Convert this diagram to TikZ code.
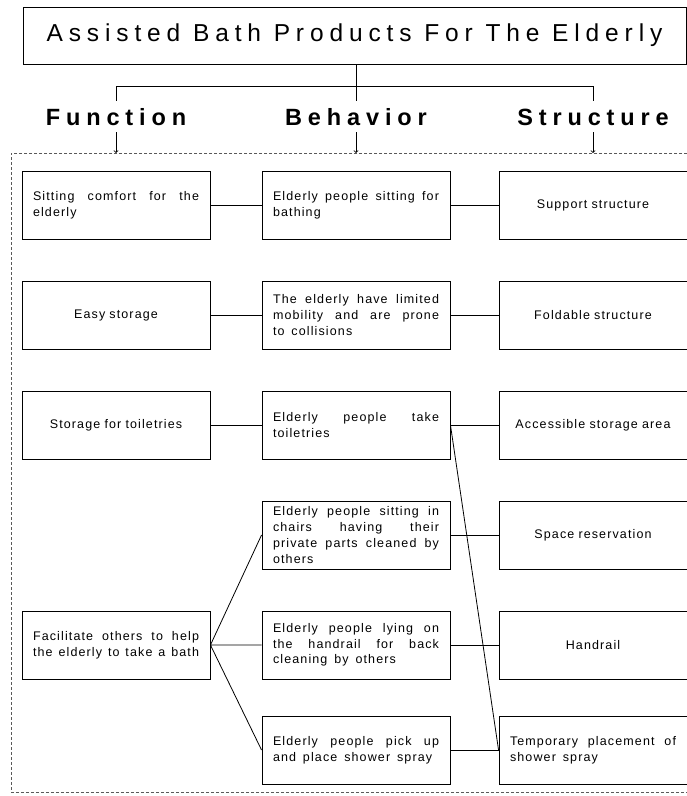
\documentclass[tikz,border=0pt]{standalone}
\usepackage{fontspec}
\setmainfont{Liberation Sans}
\newfontfamily\titlefont[LetterSpace=24]{Liberation Sans}
\newfontfamily\headfont[LetterSpace=25]{Liberation Sans}
\newfontfamily\boxfont[LetterSpace=9,WordSpace=1.5]{Liberation Sans}

\begin{document}
\begin{tikzpicture}[x=1pt,y=-1pt]
   \tikzstyle{box}=[draw, line width=0.9pt, minimum height=68pt, text width=166pt, inner xsep=11pt, inner ysep=4pt, font=\boxfont\fontsize{12.5}{15.7}\selectfont]
   \tikzstyle{cbox}=[box, align=center]
   \tikzstyle{jbox}=[box, align=justify]
   \tikzstyle{head}=[font=\headfont\bfseries\fontsize{23.5}{28}\selectfont, text height=17pt, text depth=0pt, inner ysep=7pt]
   \tikzstyle{link}=[line width=0.8pt]

\useasboundingbox (0,0) rectangle (687,796);

\node[draw, line width=1pt, minimum width=663pt, minimum height=57pt, font=\titlefont\fontsize{24.5}{28}\selectfont] (title) at (354.5,35.5) {Assisted Bath Products For The Elderly};

\node[head] (fun) at (116,116.5) {Function};
\node[head] (beh) at (356,116.5) {Behavior};
\node[head] (str) at (593,116.5) {Structure};

\draw[link] (title.south -| beh.north) -- (beh.north);
\draw[link] (fun.north) -- ++(0,-14) -| (str.north);

% dashed frame
\coordinate (frametop) at (11,153);
\draw[dashed, dash pattern=on 3pt off 2pt, gray!70!black] (687,153) -- (frametop) -- (11,792) -- (687,792);
\draw[link, ->] (fun.south) -- (fun.south |- frametop);
\draw[link, ->] (beh.south) -- (beh.south |- frametop);
\draw[link, ->] (str.south) -- (str.south |- frametop);

% function
\node[jbox] (fn1) at (116,205) {Sitting comfort for the\linebreak elderly};
\node[cbox] (fn2) at (116,315) {Easy storage};
\node[cbox] (fn3) at (116,425) {Storage for toiletries};
\node[jbox] (fn5) at (116,645) {Facilitate others to help\linebreak the elderly to take a bath};

% behavior
\node[jbox] (bh1) at (356,205) {Elderly people sitting for\linebreak bathing};
\node[jbox] (bh2) at (356,315) {The elderly have limited\linebreak mobility and are prone\linebreak to collisions};
\node[jbox] (bh3) at (356,425) {Elderly people take\linebreak toiletries};
\node[jbox] (bh4) at (356,535) {Elderly people sitting in\linebreak chairs having their\linebreak private parts cleaned by\linebreak others};
\node[jbox] (bh5) at (356,645) {Elderly people lying on\linebreak the handrail for back\linebreak cleaning by others};
\node[jbox] (bh6) at (356,750) {Elderly people pick up\linebreak and place shower spray};

% structure
\node[cbox] (st1) at (593,205) {Support structure};
\node[cbox] (st2) at (593,315) {Foldable structure};
\node[cbox] (st3) at (593,425) {Accessible storage area};
\node[cbox] (st4) at (593,535) {Space reservation};
\node[cbox] (st5) at (593,645) {Handrail};
\node[jbox] (st6) at (593,750) {Temporary placement of\linebreak shower spray};

\draw[link] (fn1) -- (bh1) (fn2) -- (bh2) (fn3) -- (bh3);
\draw[link] (fn5.east) -- (bh4.west) (fn5.east) -- (bh5.west) (fn5.east) -- (bh6.west);
\draw[link] (bh1) -- (st1) (bh2) -- (st2) (bh3) -- (st3);
\draw[link] (bh4) -- (st4) (bh5) -- (st5) (bh6) -- (st6);
\draw[link] (bh3.east) -- (st6.west);

\end{tikzpicture}
\end{document}
